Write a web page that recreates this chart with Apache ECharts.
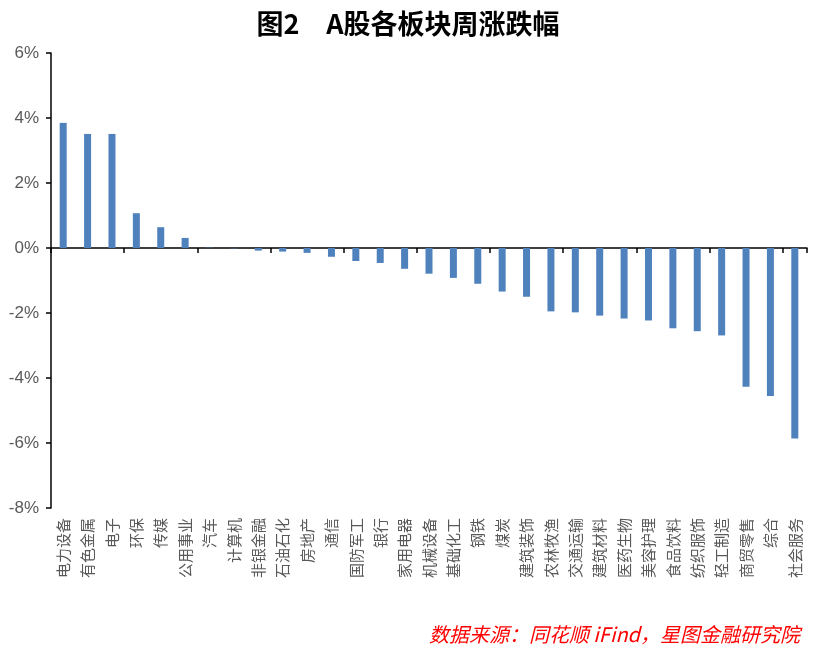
<!DOCTYPE html>
<html>
<head>
<meta charset="utf-8">
<script src="https://cdn.jsdelivr.net/npm/echarts@6/dist/echarts.min.js"></script>
<style>html,body{margin:0;padding:0;background:#fff;}#c{width:816px;height:651px;}</style>
</head>
<body>
<div id="c"></div>
<script>
const titleText = '图2　A股各板块周涨跌幅';
const sourceText = '数据来源：同花顺 iFind，星图金融研究院';
const categories = ['电力设备','有色金属','电子','环保','传媒','公用事业','汽车','计算机','非银金融','石油石化','房地产','通信','国防军工','银行','家用电器','机械设备','基础化工','钢铁','煤炭','建筑装饰','农林牧渔','交通运输','建筑材料','医药生物','美容护理','食品饮料','纺织服饰','轻工制造','商贸零售','综合','社会服务'];
const changes = [3.85,3.51,3.51,1.07,0.64,0.31,0.01,-0.01,-0.08,-0.11,-0.15,-0.27,-0.40,-0.46,-0.64,-0.79,-0.92,-1.10,-1.34,-1.50,-1.95,-1.98,-2.08,-2.17,-2.23,-2.47,-2.56,-2.69,-4.27,-4.55,-5.86];
const yMin = -8, yMax = 6, yStep = 2;

const chart = echarts.init(document.getElementById('c'));
chart.setOption({
  animation: false,
  backgroundColor: '#fff',
  title: {
    text: titleText, left: 'center', top: 5,
    textStyle: { fontFamily: 'Noto Sans CJK SC', fontSize: 27, fontWeight: 'bold', color: '#000' }
  },
  graphic: [{
    type: 'text', right: 16, top: 624,
    style: { text: sourceText, fill: '#ff0000', font: 'italic 20px "Noto Sans CJK SC"' }
  }],
  grid: { left: 51, right: 9, top: 53, bottom: 143, containLabel: false },
  xAxis: [{
    type: 'category', data: categories, position: 'bottom',
    axisLine: { show: false, onZero: false }, axisTick: { show: false },
    axisLabel: { interval: 0, rotate: 90, margin: 10, color: '#595959', fontSize: 15, fontFamily: 'Noto Sans CJK SC' }
  }, {
    type: 'category', data: categories, position: 'top',
    axisLine: { show: true, onZero: true, lineStyle: { color: '#000', width: 1.5 } },
    axisTick: { show: true, inside: true, length: 5, alignWithLabel: false, lineStyle: { color: '#000', width: 1.5 } },
    axisLabel: { show: false }
  }],
  yAxis: {
    type: 'value', min: yMin, max: yMax, interval: yStep,
    axisLine: { show: true, lineStyle: { color: '#000', width: 1.5 } },
    axisTick: { show: true, length: 5, lineStyle: { color: '#000', width: 1.5 } },
    splitLine: { show: false },
    axisLabel: { formatter: v => v + '%', color: '#595959', fontSize: 17, fontFamily: 'Liberation Sans', margin: 12 }
  },
  series: [{
    type: 'bar', data: changes, xAxisIndex: 0, barWidth: 7,
    itemStyle: { color: '#4F81BD' }
  }]
});
</script>
</body>
</html>
